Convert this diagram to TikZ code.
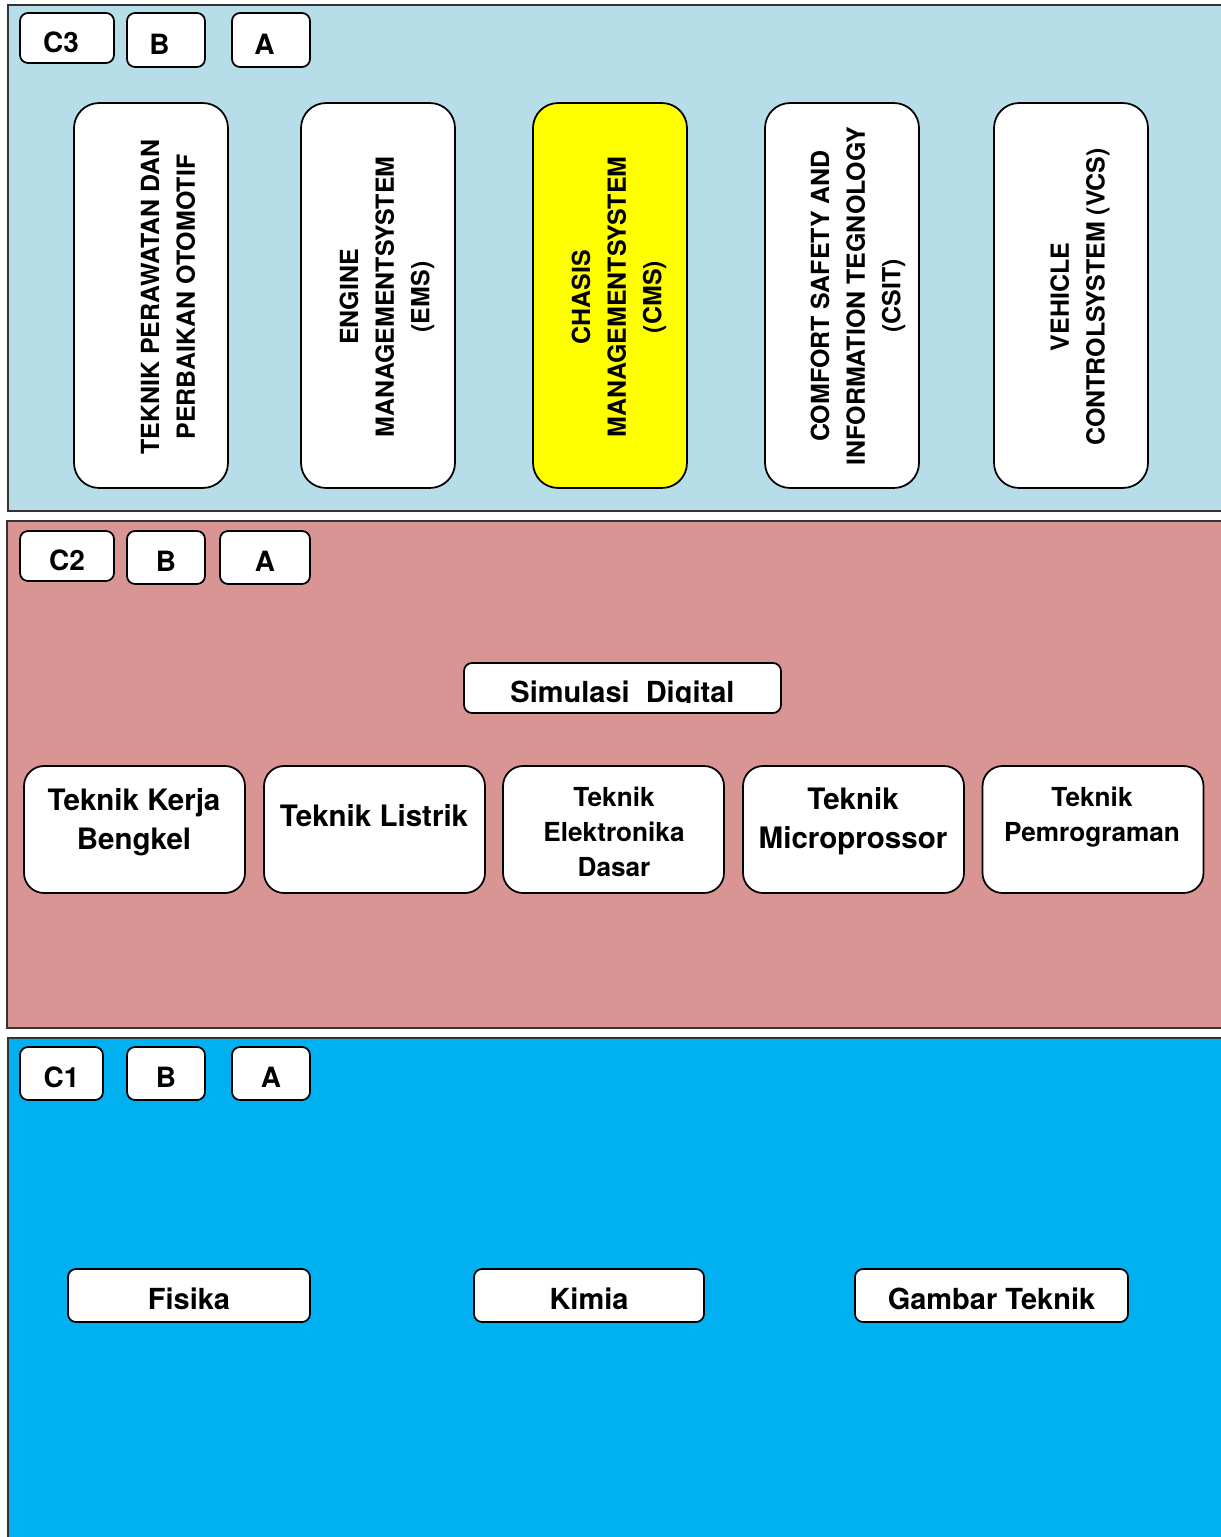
\documentclass[tikz,border=0pt]{standalone}
\usepackage{fontspec}
\setmainfont{TeX Gyre Heros}
\definecolor{panelthree}{HTML}{B7DDE8}
\definecolor{paneltwo}{HTML}{D99594}
\definecolor{panelone}{HTML}{00B0F0}
\definecolor{cmsyellow}{HTML}{FFFF00}
\tikzset{
  panel/.style={draw=black!80, line width=1.1pt},
  tag/.style={draw, fill=white, rounded corners=0.16cm, line width=1pt, inner sep=0pt,
    text height=16.4pt, text depth=0pt, font=\fontsize{15.9}{18}\selectfont\bfseries},
  tall/.style={draw, fill=white, rounded corners=0.5cm, minimum width=3.08cm, minimum height=7.7cm, line width=1pt},
  talltext/.style={rotate=90, align=center, inner sep=0pt, font=\fontsize{14.2}{20.3}\selectfont\bfseries},
  subj/.style={draw, fill=white, rounded corners=0.4cm, minimum width=4.42cm, minimum height=2.54cm, line width=1pt},
  subjtext/.style={align=center, inner sep=0pt, font=\fontsize{16.8}{22.2}\selectfont\bfseries},
  subjsmall/.style={align=center, inner sep=0pt, font=\fontsize{14.9}{20}\selectfont\bfseries},
  basic/.style={draw, fill=white, rounded corners=0.16cm, minimum height=1.06cm, line width=1pt, inner sep=0pt,
    text height=15.4pt, text depth=0pt, font=\fontsize{16.5}{18}\selectfont\bfseries},
}
\begin{document}
\begin{tikzpicture}[x=0.02cm,y=-0.02cm]
\useasboundingbox (0,0) rectangle (1220,1537);
% panels
\draw[panel, fill=panelthree] (8,5) rectangle (1235,511);
\draw[panel, fill=paneltwo] (7,521) rectangle (1235,1028);
\draw[panel, fill=panelone] (8,1038) rectangle (1235,1550);

% ---- C3 panel
\node[tag, minimum width=1.88cm, minimum height=1.0cm] (c3) at (67,38) {C3\kern0.24cm};
\node[tag, minimum width=1.56cm, minimum height=1.08cm] (c3b) at (166,40) {B\kern0.26cm};
\node[tag, minimum width=1.56cm, minimum height=1.08cm] (c3a) at (271,40) {A\kern0.26cm};

\node[tall] (k1) at (151,295.5) {};
\node[tall] (k2) at (378,295.5) {};
\node[tall, fill=cmsyellow] (k3) at (610,295.5) {};
\node[tall] (k4) at (842,295.5) {};
\node[tall] (k5) at (1071,295.5) {};
\node[talltext] (t1) at (168,297) {TEKNIK PERAWATAN DAN\\PERBAIKAN OTOMOTIF};
\node[talltext] (t2) at (387,297) {ENGINE\\MANAGEMENTSYSTEM\\(EMS)};
\node[talltext] (t3) at (619,297) {CHASIS\\MANAGEMENTSYSTEM\\(CMS)};
\node[talltext] (t4) at (858,296) {COMFORT SAFETY AND\\INFORMATION TEGNOLOGY\\(CSIT)};
\node[talltext] (t5) at (1080,297) {VEHICLE\\CONTROLSYSTEM (VCS)};

% ---- C2 panel
\node[tag, minimum width=1.88cm, minimum height=1.0cm] (c2) at (67,556) {C2};
\node[tag, minimum width=1.56cm, minimum height=1.06cm] (c2b) at (166,557.5) {B};
\node[tag, minimum width=1.8cm, minimum height=1.06cm] (c2a) at (265,557.5) {A};

\node[draw, fill=white, rounded corners=0.16cm, minimum width=6.34cm, minimum height=1.0cm, line width=1pt] (sim) at (622.5,688) {};
\begin{scope}
  \clip (464,663) rectangle (781,702.5);
  \node[inner sep=0pt, anchor=base, font=\fontsize{16.5}{18}\selectfont\bfseries] (simt) at (622.5,702) {Simulasi\ \ Digital};
\end{scope}

\node[subj] (s1) at (134.5,829.5) {};
\node[subj] (s2) at (374.5,829.5) {};
\node[subj] (s3) at (613.5,829.5) {};
\node[subj] (s4) at (853.5,829.5) {};
\node[subj] (s5) at (1093,829.5) {};
\node[subjtext] (st1) at (134,822) {Teknik Kerja\\Bengkel};
\node[subjtext] (st2) at (374,816) {Teknik Listrik};
\node[subjsmall] (st3) at (614,832) {Teknik\\Elektronika\\Dasar};
\node[subjtext] (st4) at (853,821) {Teknik\\Microprossor};
\node[subjsmall] (st5) at (1092,817) {Teknik\\Pemrograman};

% ---- C1 panel
\node[tag, minimum width=1.66cm, minimum height=1.06cm] (c1) at (61.5,1073.5) {C1};
\node[tag, minimum width=1.56cm, minimum height=1.06cm] (c1b) at (166,1073.5) {B};
\node[tag, minimum width=1.56cm, minimum height=1.06cm] (c1a) at (271,1073.5) {A};

\node[basic, minimum width=4.84cm] (fis) at (189,1295.5) {Fisika};
\node[basic, minimum width=4.6cm] (kim) at (589,1295.5) {Kimia};
\node[basic, minimum width=5.46cm] (gam) at (991.5,1295.5) {Gambar Teknik};
\end{tikzpicture}
\end{document}
